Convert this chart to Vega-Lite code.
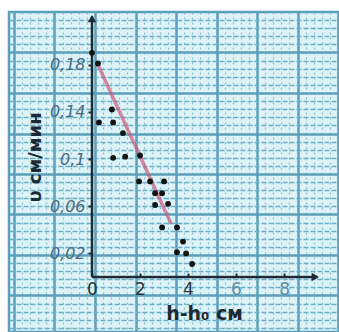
{
  "$schema": "https://vega.github.io/schema/vega-lite/v6.json",
  "width": 330,
  "height": 320,
  "autosize": {"type": "none"},
  "padding": {"left": 9, "top": 12, "right": 0, "bottom": 0},
  "background": "white",
  "config": {
    "view": {"fill": "#def3f7", "stroke": "#5b9fbb", "strokeWidth": 2.5},
    "font": "DejaVu Sans"
  },
  "datasets": {
    "pts": [
      {"x": 0.0, "y": 0.19},
      {"x": 0.25, "y": 0.181},
      {"x": 0.83, "y": 0.142},
      {"x": 0.29, "y": 0.131},
      {"x": 0.88, "y": 0.131},
      {"x": 1.29, "y": 0.122},
      {"x": 0.88, "y": 0.101},
      {"x": 1.38, "y": 0.102},
      {"x": 2.0, "y": 0.103},
      {"x": 1.96, "y": 0.081},
      {"x": 2.42, "y": 0.081},
      {"x": 3.0, "y": 0.081},
      {"x": 2.63, "y": 0.071},
      {"x": 2.92, "y": 0.071},
      {"x": 2.63, "y": 0.061},
      {"x": 3.17, "y": 0.062},
      {"x": 2.92, "y": 0.042},
      {"x": 3.54, "y": 0.042},
      {"x": 3.79, "y": 0.03},
      {"x": 3.54, "y": 0.021},
      {"x": 3.92, "y": 0.02},
      {"x": 4.17, "y": 0.011}
    ],
    "fit": [
      {"x": 0.2, "y": 0.182},
      {"x": 3.3, "y": 0.045}
    ],
    "axes": [
      {"x": 0, "y": 0, "x2": 0, "y2": 0.221},
      {"x": 0, "y": 0, "x2": 9.4, "y2": 0}
    ]
  },
  "layer": [
    {
      "data": {"name": "pts"},
      "mark": {"type": "point", "opacity": 0},
      "encoding": {
        "x": {"field": "x", "type": "quantitative", "scale": {"domain": [-3.458, 10.29], "nice": false, "zero": false},
          "axis": {"orient": "bottom", "grid": true, "values": [-3.25, -2.9125, -2.575, -2.2375, -1.9, -1.5625, -1.225, -0.8875, -0.55, -0.2125, 0.125, 0.4625, 0.8, 1.1375, 1.475, 1.8125, 2.15, 2.4875, 2.825, 3.1625, 3.5, 3.8375, 4.175, 4.5125, 4.85, 5.1875, 5.525, 5.8625, 6.2, 6.5375, 6.875, 7.2125, 7.55, 7.8875, 8.225, 8.5625, 8.9, 9.2375, 9.575, 9.9125, 10.25],
            "labels": false, "ticks": false, "domain": false, "title": null, "gridColor": "#86bfd3", "gridWidth": 1.2, "gridDash": [2, 3]}},
        "y": {"field": "y", "type": "quantitative", "scale": {"domain": [-0.0466, 0.2246], "nice": false, "zero": false},
          "axis": {"orient": "left", "grid": true, "values": [0.2177, 0.2109, 0.204, 0.1971, 0.1834, 0.1766, 0.1697, 0.1628, 0.1491, 0.1422, 0.1354, 0.1285, 0.1148, 0.1079, 0.1011, 0.0942, 0.0805, 0.0736, 0.0667, 0.0599, 0.0461, 0.0393, 0.0324, 0.0256, 0.0118, 0.005, -0.0019, -0.0088, -0.0225, -0.0294, -0.0362, -0.0431],
            "labels": false, "ticks": false, "domain": false, "title": null, "gridColor": "#6aaec7", "gridWidth": 1.6, "gridDash": [5, 2]}}
      }
    },
    {
      "data": {"name": "pts"},
      "mark": {"type": "point", "opacity": 0},
      "encoding": {
        "x": {"field": "x", "type": "quantitative", "scale": {"domain": [-3.458, 10.29], "nice": false, "zero": false},
          "axis": {"orient": "top", "grid": true, "values": [-3.25, -1.5625, 0.125, 1.8125, 3.5, 5.1875, 6.875, 8.5625, 10.25],
            "labels": false, "ticks": false, "domain": false, "title": null, "gridColor": "#5b9fbb", "gridWidth": 2.5}},
        "y": {"field": "y", "type": "quantitative", "scale": {"domain": [-0.0466, 0.2246], "nice": false, "zero": false},
          "axis": {"orient": "right", "grid": true, "values": [0.1903, 0.156, 0.1216, 0.0873, 0.053, 0.0187, -0.0156],
            "labels": false, "ticks": false, "domain": false, "title": null, "gridColor": "#5b9fbb", "gridWidth": 2.5}}
      }
    },
    {
      "data": {"name": "fit"},
      "mark": {"type": "line", "color": "#c95a7c", "strokeWidth": 3.5, "opacity": 0.7},
      "encoding": {
        "x": {"field": "x", "type": "quantitative", "scale": {"domain": [-3.458, 10.29], "nice": false, "zero": false}, "axis": null},
        "y": {"field": "y", "type": "quantitative", "scale": {"domain": [-0.0466, 0.2246], "nice": false, "zero": false}, "axis": null}
      }
    },
    {
      "data": {"name": "axes"},
      "mark": {"type": "rule", "color": "#1f2b34", "strokeWidth": 2.5},
      "encoding": {
        "x": {"field": "x", "type": "quantitative", "scale": {"domain": [-3.458, 10.29], "nice": false, "zero": false}, "axis": null},
        "y": {"field": "y", "type": "quantitative", "scale": {"domain": [-0.0466, 0.2246], "nice": false, "zero": false}, "axis": null},
        "x2": {"field": "x2"},
        "y2": {"field": "y2"}
      }
    },
    {
      "data": {"values": [{"x": 0, "y": 0.219}]},
      "mark": {"type": "point", "shape": "triangle-up", "filled": true, "color": "#1f2b34", "size": 70, "opacity": 1},
      "encoding": {
        "x": {"field": "x", "type": "quantitative", "scale": {"domain": [-3.458, 10.29], "nice": false, "zero": false}, "axis": null},
        "y": {"field": "y", "type": "quantitative", "scale": {"domain": [-0.0466, 0.2246], "nice": false, "zero": false}, "axis": null}
      }
    },
    {
      "data": {"values": [{"x": 9.3, "y": 0}]},
      "mark": {"type": "point", "shape": "triangle-right", "filled": true, "color": "#1f2b34", "size": 70, "opacity": 1},
      "encoding": {
        "x": {"field": "x", "type": "quantitative", "scale": {"domain": [-3.458, 10.29], "nice": false, "zero": false}, "axis": null},
        "y": {"field": "y", "type": "quantitative", "scale": {"domain": [-0.0466, 0.2246], "nice": false, "zero": false}, "axis": null}
      }
    },
    {
      "data": {"name": "pts"},
      "mark": {"type": "circle", "color": "#141414", "size": 34, "opacity": 1},
      "encoding": {
        "x": {"field": "x", "type": "quantitative", "scale": {"domain": [-3.458, 10.29], "nice": false, "zero": false},
          "axis": {"orient": "bottom", "offset": -55, "values": [0, 2, 4, 6, 8], "grid": false, "domain": false,
            "tickSize": -4, "tickColor": "#1f2b34", "tickWidth": 2, "labelPadding": 8, "labelFontSize": 17, "labelFont": "DejaVu Sans",
            "labelColor": {"condition": {"test": "datum.value >= 6", "value": "#5a8fa8"}, "value": "#26343d"},
            "title": "h-h₀ см", "titleFontSize": 19, "titleFontWeight": "bold", "titleColor": "#1e2a33", "titleFont": "DejaVu Sans",
            "titleX": 195, "titleY": 36, "titleAlign": "center", "titleBaseline": "middle", "titleAngle": 0}},
        "y": {"field": "y", "type": "quantitative", "scale": {"domain": [-0.0466, 0.2246], "nice": false, "zero": false},
          "axis": {"orient": "left", "offset": -83, "values": [0.02, 0.06, 0.1, 0.14, 0.18], "grid": false, "domain": false,
            "tickSize": 4, "tickColor": "#1f2b34", "tickWidth": 2, "labelPadding": 3, "labelFontSize": 16, "labelFontStyle": "italic",
            "labelExpr": "replace(format(datum.value, '.2~f'), '.', ',')", "labelColor": "#4c6c82", "labelFont": "DejaVu Sans",
            "title": "υ см/мин", "titleFontSize": 18, "titleFontWeight": "bold", "titleColor": "#1e2a33", "titleFont": "DejaVu Sans",
            "titleX": -57, "titleY": 145, "titleAlign": "center", "titleBaseline": "middle", "titleAngle": 270}}
      }
    }
  ],
  "resolve": {"axis": {"x": "independent", "y": "independent"}}
}
